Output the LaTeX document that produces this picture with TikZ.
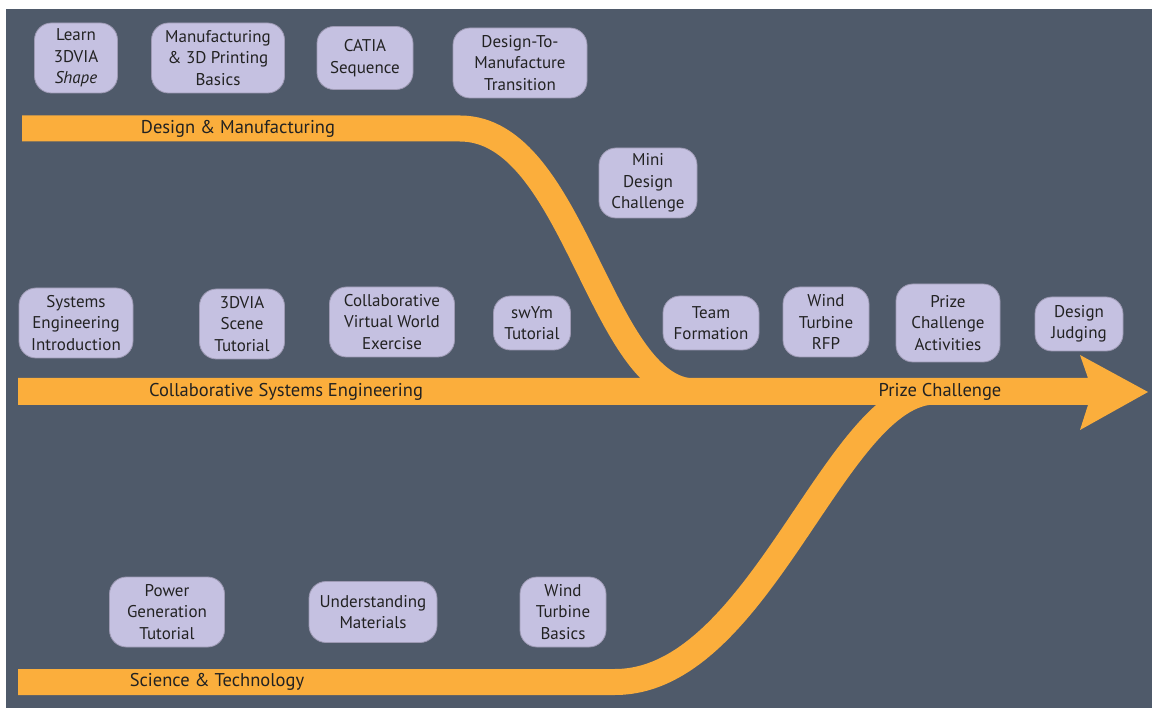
\documentclass[tikz,border=0pt]{standalone}
\usepackage{fontspec}
\setmainfont{PT Sans}
\usepackage{tikz}
\usetikzlibrary{positioning}
\definecolor{slate}{HTML}{4F5A6A}
\definecolor{track}{HTML}{FBAE3C}
\definecolor{lilac}{HTML}{C5C1E1}
\definecolor{ink}{HTML}{222222}

\begin{document}
\begin{tikzpicture}[x=1pt, y=-1pt,
                  topic/.style={draw=lilac!80!black, line width=0.8pt, fill=lilac, rounded corners=17pt,
                                text=ink, align=center, inner xsep=7pt, inner ysep=2pt,
                                font=\fontsize{17}{21.5}\selectfont, minimum height=70pt},
                  shorttopic/.style={topic, minimum height=54pt},
                  band/.style={draw=track, line width=26pt},
                  bandlabel/.style={text=ink, font=\fontsize{18.5}{22}\selectfont, inner sep=0pt},
            ]
            \useasboundingbox (0,0) rectangle (1152,708);
            \fill[white] (0,0) rectangle (1152,708);
            \fill[slate] (6,9) rectangle (1152,708);

            % tracks
            \draw[band] (22,128.5) -- (460,128.5) .. controls (575,128.5) and (600,391.5) .. (695,391.5);
            \draw[band] (18,682) -- (615,682) .. controls (760,682) and (835,391.5) .. (935,391.5);
            \fill[track] (18,378) -- (1088,378) -- (1080,355) -- (1148,392) -- (1080,430)
                         -- (1088,405) -- (18,405) -- cycle;

            \node[bandlabel] (dm) at (238,128.5) {Design \& Manufacturing};
            \node[bandlabel] (cse) at (286,391.5) {Collaborative Systems Engineering};
            \node[bandlabel] (pc) at (940,391.5) {Prize Challenge};
            \node[bandlabel] (st) at (217,682) {Science \& Technology};

            % design & manufacturing
            \node[topic, minimum width=83pt] (learn) at (76,58) {Learn\\3DVIA\\\textit{Shape}};
            \node[topic, minimum width=133pt] (basics) at (218,58) {Manufacturing\\\& 3D Printing\\Basics};
            \node[shorttopic, minimum width=96pt, minimum height=63pt] (catia) at (365,58) {CATIA\\Sequence};
            \node[topic, minimum width=134pt] (transition) at (520,63) {Design-To-\\Manufacture\\Transition};
            \node[topic, minimum width=98pt] (mini) at (648,183) {Mini\\Design\\Challenge};

            % collaborative systems engineering
            \node[topic, minimum width=114pt] (intro) at (76,323) {Systems\\Engineering\\Introduction};
            \node[topic, minimum width=85pt] (scene) at (242,324) {3DVIA\\Scene\\Tutorial};
            \node[topic, minimum width=125pt] (virtual) at (392,322) {Collaborative\\Virtual World\\Exercise};
            \node[shorttopic, minimum width=77pt] (swym) at (532,323) {swYm\\Tutorial};

            % prize challenge
            \node[shorttopic, minimum width=96pt] (team) at (711,323) {Team\\Formation};
            \node[topic, minimum width=86pt] (rfp) at (826,322) {Wind\\Turbine\\RFP};
            \node[topic, minimum width=104pt, minimum height=78pt] (activities) at (948,323) {Prize\\Challenge\\Activities};
            \node[shorttopic, minimum width=88pt] (judging) at (1079,324) {Design\\Judging};

            % science & technology
            \node[topic, minimum width=115pt] (power) at (167,612) {Power\\Generation\\Tutorial};
            \node[shorttopic, minimum width=128pt, minimum height=61pt] (materials) at (373,612) {Understanding\\Materials};
            \node[topic, minimum width=86pt] (turbine) at (563,612) {Wind\\Turbine\\Basics};

      \end{tikzpicture}
\end{document}
